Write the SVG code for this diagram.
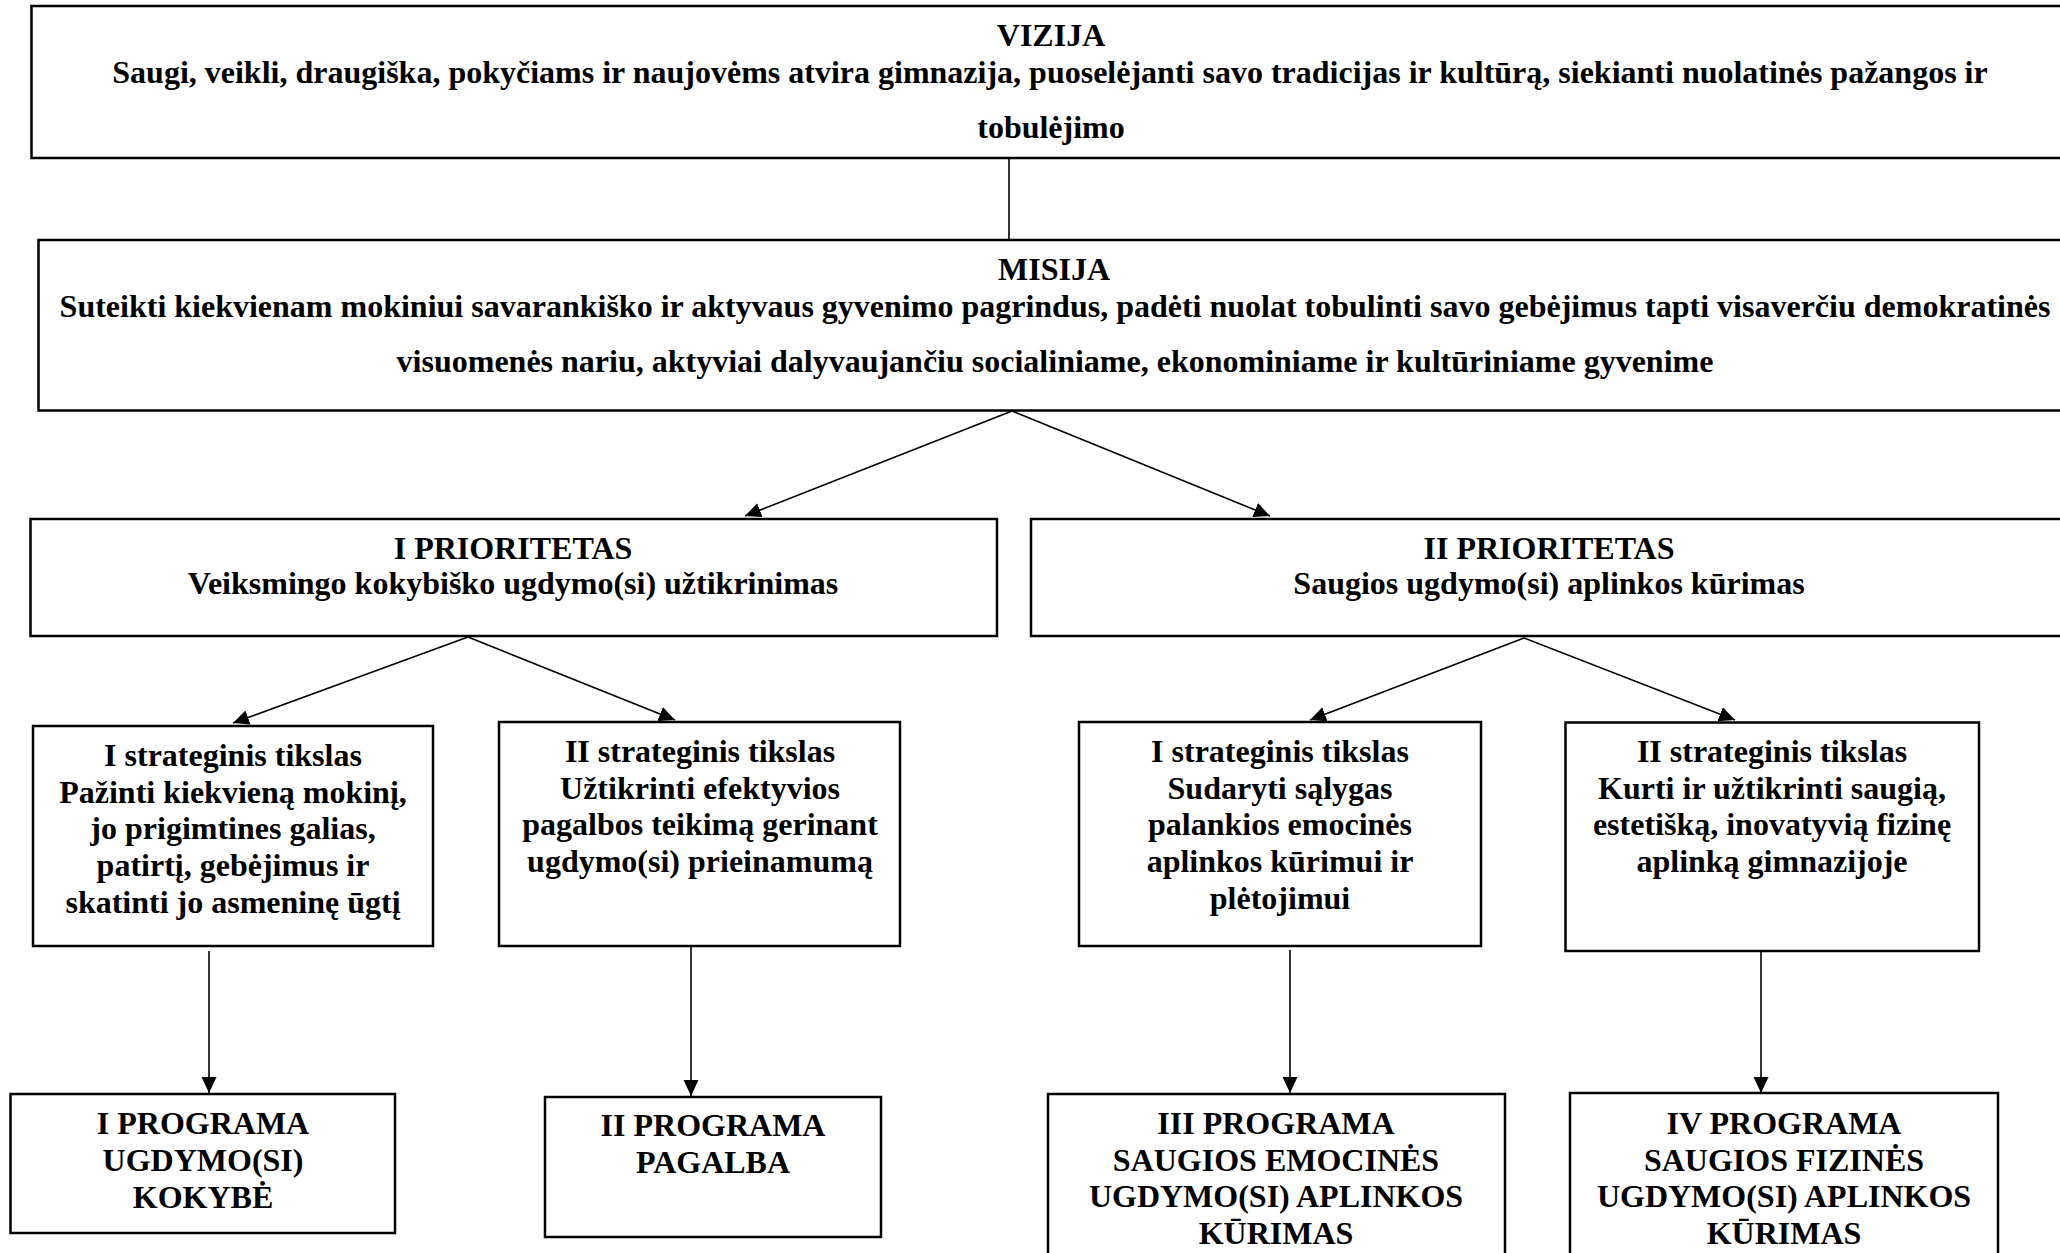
<svg xmlns="http://www.w3.org/2000/svg" width="2060" height="1253" viewBox="0 0 2060 1253">
<style>
.box{fill:#fff;stroke:#000;stroke-width:2.5}
.t{font-family:"Liberation Serif","Times New Roman",serif;font-weight:bold;font-size:32px;fill:#000;text-anchor:middle}
.c{stroke:#000;stroke-width:1.6;fill:none}
</style>
<defs>
<marker id="ah" markerUnits="userSpaceOnUse" markerWidth="18" markerHeight="16" refX="16" refY="7.5" orient="auto">
<path d="M0,0 L16,7.5 L0,15 z" fill="#000"/>
</marker>
</defs>
<rect width="2060" height="1253" fill="#fff"/>
<g id="connectors">
<line class="c" x1="1009" y1="158" x2="1009" y2="240"/>
<line class="c" x1="1012" y1="411" x2="745" y2="516" marker-end="url(#ah)"/>
<line class="c" x1="1012" y1="411" x2="1270" y2="516" marker-end="url(#ah)"/>
<line class="c" x1="468" y1="637" x2="233" y2="723" marker-end="url(#ah)"/>
<line class="c" x1="468" y1="637" x2="675" y2="720" marker-end="url(#ah)"/>
<line class="c" x1="1524" y1="638" x2="1310" y2="720" marker-end="url(#ah)"/>
<line class="c" x1="1524" y1="638" x2="1735" y2="720" marker-end="url(#ah)"/>
<line class="c" x1="209" y1="951" x2="209" y2="1093" marker-end="url(#ah)"/>
<line class="c" x1="691" y1="947" x2="691" y2="1096" marker-end="url(#ah)"/>
<line class="c" x1="1290" y1="950" x2="1290" y2="1093" marker-end="url(#ah)"/>
<line class="c" x1="1761" y1="952" x2="1761" y2="1093" marker-end="url(#ah)"/>
</g>
<g id="vizija">
<rect class="box" x="31.5" y="6" width="2060" height="152"/>
<text class="t" x="1051" y="46">VIZIJA</text>
<text class="t" x="1050" y="83">Saugi, veikli, draugiška, pokyčiams ir naujovėms atvira gimnazija, puoselėjanti savo tradicijas ir kultūrą, siekianti nuolatinės pažangos ir</text>
<text class="t" x="1051" y="138">tobulėjimo</text>
</g>
<g id="misija">
<rect class="box" x="38.5" y="240" width="2060" height="170.5"/>
<text class="t" x="1054" y="280">MISIJA</text>
<text class="t" x="1055" y="317">Suteikti kiekvienam mokiniui savarankiško ir aktyvaus gyvenimo pagrindus, padėti nuolat tobulinti savo gebėjimus tapti visaverčiu demokratinės</text>
<text class="t" x="1055" y="372">visuomenės nariu, aktyviai dalyvaujančiu socialiniame, ekonominiame ir kultūriniame gyvenime</text>
</g>
<g id="prioritetas1">
<rect class="box" x="30.5" y="519" width="966.5" height="117"/>
<text class="t" x="513" y="559">I PRIORITETAS</text>
<text class="t" x="513" y="594">Veiksmingo kokybiško ugdymo(si) užtikrinimas</text>
</g>
<g id="prioritetas2">
<rect class="box" x="1031" y="519" width="1060" height="117"/>
<text class="t" x="1549" y="559">II PRIORITETAS</text>
<text class="t" x="1549" y="594">Saugios ugdymo(si) aplinkos kūrimas</text>
</g>
<g id="tikslas1">
<rect class="box" x="33" y="726" width="400" height="220"/>
<text class="t" x="233" y="766">I strateginis tikslas</text>
<text class="t" x="233" y="803">Pažinti kiekvieną mokinį,</text>
<text class="t" x="233" y="839">jo prigimtines galias,</text>
<text class="t" x="233" y="876">patirtį, gebėjimus ir</text>
<text class="t" x="233" y="913">skatinti jo asmeninę ūgtį</text>
</g>
<g id="tikslas2">
<rect class="box" x="499" y="722" width="401" height="224"/>
<text class="t" x="700" y="762">II strateginis tikslas</text>
<text class="t" x="700" y="799">Užtikrinti efektyvios</text>
<text class="t" x="700" y="835">pagalbos teikimą gerinant</text>
<text class="t" x="700" y="872">ugdymo(si) prieinamumą</text>
</g>
<g id="tikslas3">
<rect class="box" x="1079" y="722" width="402" height="224"/>
<text class="t" x="1280" y="762">I strateginis tikslas</text>
<text class="t" x="1280" y="799">Sudaryti sąlygas</text>
<text class="t" x="1280" y="835">palankios emocinės</text>
<text class="t" x="1280" y="872">aplinkos kūrimui ir</text>
<text class="t" x="1280" y="909">plėtojimui</text>
</g>
<g id="tikslas4">
<rect class="box" x="1565.5" y="722.5" width="413.5" height="228.5"/>
<text class="t" x="1772" y="762">II strateginis tikslas</text>
<text class="t" x="1772" y="799">Kurti ir užtikrinti saugią,</text>
<text class="t" x="1772" y="835">estetišką, inovatyvią fizinę</text>
<text class="t" x="1772" y="872">aplinką gimnazijoje</text>
</g>
<g id="programa1">
<rect class="box" x="10.5" y="1094" width="384.5" height="139"/>
<text class="t" x="203" y="1134">I PROGRAMA</text>
<text class="t" x="203" y="1171">UGDYMO(SI)</text>
<text class="t" x="203" y="1208">KOKYBĖ</text>
</g>
<g id="programa2">
<rect class="box" x="545" y="1097" width="336" height="140"/>
<text class="t" x="713" y="1136">II PROGRAMA</text>
<text class="t" x="713" y="1173">PAGALBA</text>
</g>
<g id="programa3">
<rect class="box" x="1048" y="1094" width="457" height="200"/>
<text class="t" x="1276" y="1134">III PROGRAMA</text>
<text class="t" x="1276" y="1171">SAUGIOS EMOCINĖS</text>
<text class="t" x="1276" y="1207">UGDYMO(SI) APLINKOS</text>
<text class="t" x="1276" y="1244">KŪRIMAS</text>
</g>
<g id="programa4">
<rect class="box" x="1570" y="1093" width="428" height="200"/>
<text class="t" x="1784" y="1134">IV PROGRAMA</text>
<text class="t" x="1784" y="1171">SAUGIOS FIZINĖS</text>
<text class="t" x="1784" y="1207">UGDYMO(SI) APLINKOS</text>
<text class="t" x="1784" y="1244">KŪRIMAS</text>
</g>
</svg>
